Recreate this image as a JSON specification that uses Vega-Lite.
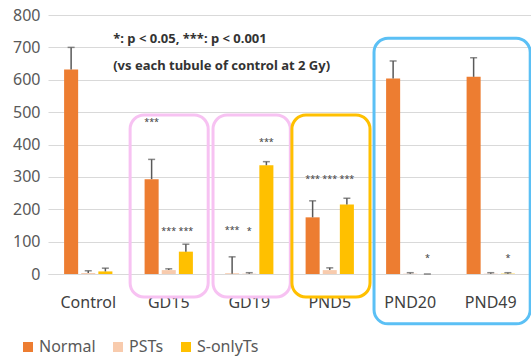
{
  "$schema": "https://vega.github.io/schema/vega-lite/v6.json",
  "autosize": {"type": "none"},
  "width": 483,
  "height": 259,
  "padding": {"left": 48, "top": 15, "right": 0, "bottom": 86},
  "background": "white",
  "config": {
    "view": {"stroke": null},
    "font": "Noto Sans",
    "axis": {"labelFont": "Noto Sans", "titleFont": "Noto Sans"},
    "axisY": {"labelOverlap": false, "labelFontSize": 16, "labelColor": "#595959", "labelPadding": 8, "ticks": false, "domain": false, "gridColor": "#D9D9D9", "gridWidth": 1, "title": null},
    "legend": {"labelFont": "Noto Sans"}
  },
  "datasets": {
    "bars": [
      {"group": "Control", "type": "Normal", "value": 632, "upper": 700},
      {"group": "Control", "type": "PSTs", "value": 3, "upper": 10},
      {"group": "Control", "type": "S-onlyTs", "value": 8, "upper": 18},
      {"group": "GD15", "type": "Normal", "value": 293, "upper": 354},
      {"group": "GD15", "type": "PSTs", "value": 12, "upper": 16},
      {"group": "GD15", "type": "S-onlyTs", "value": 69, "upper": 92},
      {"group": "GD19", "type": "Normal", "value": 1, "upper": 53},
      {"group": "GD19", "type": "PSTs", "value": 1, "upper": 4},
      {"group": "GD19", "type": "S-onlyTs", "value": 336, "upper": 347},
      {"group": "PND5", "type": "Normal", "value": 175, "upper": 226},
      {"group": "PND5", "type": "PSTs", "value": 12, "upper": 19},
      {"group": "PND5", "type": "S-onlyTs", "value": 215, "upper": 234},
      {"group": "PND20", "type": "Normal", "value": 604, "upper": 658},
      {"group": "PND20", "type": "PSTs", "value": 1, "upper": 4},
      {"group": "PND20", "type": "S-onlyTs", "value": 0, "upper": 0},
      {"group": "PND49", "type": "Normal", "value": 609, "upper": 668},
      {"group": "PND49", "type": "PSTs", "value": 1, "upper": 4},
      {"group": "PND49", "type": "S-onlyTs", "value": 1, "upper": 4}
    ],
    "stars": [
      {"group": "GD15", "type": "Normal", "label": "***", "at": 469},
      {"group": "GD15", "type": "PSTs", "label": "***", "at": 133},
      {"group": "GD15", "type": "S-onlyTs", "label": "***", "at": 133},
      {"group": "GD19", "type": "Normal", "label": "***", "at": 136},
      {"group": "GD19", "type": "PSTs", "label": "*", "at": 133},
      {"group": "GD19", "type": "S-onlyTs", "label": "***", "at": 407},
      {"group": "PND5", "type": "Normal", "label": "***", "at": 293},
      {"group": "PND5", "type": "PSTs", "label": "***", "at": 293},
      {"group": "PND5", "type": "S-onlyTs", "label": "***", "at": 293},
      {"group": "PND20", "type": "S-onlyTs", "label": "*", "at": 49},
      {"group": "PND49", "type": "S-onlyTs", "label": "*", "at": 49}
    ],
    "boxes": [
      {"x0": 1.02, "x1": 1.99, "y0": -71, "y1": 491, "box": "GD15"},
      {"x0": 2.05, "x1": 3.01, "y0": -71, "y1": 491, "box": "GD19"},
      {"x0": 3.03, "x1": 4.0, "y0": -71, "y1": 491, "box": "PND5"},
      {"x0": 4.05, "x1": 5.99, "y0": -154, "y1": 728, "box": "PND"}
    ],
    "notes": [
      {"x": 0.81, "y": 726, "text": "*: p < 0.05, ***: p < 0.001"},
      {"x": 0.81, "y": 641, "text": "(vs each tubule of control at 2 Gy)"}
    ]
  },
  "layer": [
    {
      "layer": [
        {
          "data": {"name": "bars"},
          "mark": {"type": "bar"},
          "encoding": {
            "x": {"field": "group", "type": "nominal", "sort": null,
              "scale": {"paddingInner": 0.4, "paddingOuter": 0.2},
              "axis": {"title": null, "labelAngle": 0, "labelFontSize": 16, "labelColor": "#404040", "labelPadding": 20, "ticks": false, "domain": true, "domainColor": "#D9D9D9", "domainWidth": 1}},
            "xOffset": {"field": "type", "type": "nominal", "sort": ["Normal", "PSTs", "S-onlyTs"],
              "scale": {"paddingInner": 0.18, "paddingOuter": 0}},
            "y": {"field": "value", "type": "quantitative",
              "scale": {"domain": [0, 800], "nice": false},
              "axis": {"values": [0,100,200,300,400,500,600,700,800]}},
            "color": {"field": "type", "type": "nominal", "sort": ["Normal", "PSTs", "S-onlyTs"],
              "scale": {"domain": ["Normal", "PSTs", "S-onlyTs"], "range": ["#ED7D31", "#F8CBAD", "#FFC000"]},
              "legend": {"title": null, "orient": "none", "legendX": -28, "legendY": 324, "direction": "horizontal",
                "symbolType": "square", "symbolSize": 100, "symbolStrokeWidth": 0, "labelFontSize": 16, "labelColor": "#595959", "labelOffset": 3, "columnPadding": 14}}
          }
        },
        {
          "data": {"name": "bars"},
          "mark": {"type": "rule", "color": "#595959", "strokeWidth": 1.5},
          "encoding": {
            "x": {"field": "group", "type": "nominal", "sort": null},
            "xOffset": {"field": "type", "type": "nominal", "sort": ["Normal", "PSTs", "S-onlyTs"]},
            "y": {"field": "value", "type": "quantitative", "axis": {"values": [0,100,200,300,400,500,600,700,800]}},
            "y2": {"field": "upper"}
          }
        },
        {
          "data": {"name": "bars"},
          "mark": {"type": "tick", "color": "#595959", "size": 7, "thickness": 1.5},
          "encoding": {
            "x": {"field": "group", "type": "nominal", "sort": null},
            "xOffset": {"field": "type", "type": "nominal", "sort": ["Normal", "PSTs", "S-onlyTs"]},
            "y": {"field": "upper", "type": "quantitative", "axis": {"values": [0,100,200,300,400,500,600,700,800]}}
          }
        },
        {
          "data": {"name": "stars"},
          "mark": {"type": "text", "fontSize": 9, "color": "#404040", "baseline": "middle"},
          "encoding": {
            "x": {"field": "group", "type": "nominal", "sort": null},
            "xOffset": {"field": "type", "type": "nominal", "sort": ["Normal", "PSTs", "S-onlyTs"]},
            "y": {"field": "at", "type": "quantitative", "axis": {"values": [0,100,200,300,400,500,600,700,800]}},
            "text": {"field": "label"}
          }
        }
      ]
    },
    {
      "layer": [
        {
          "data": {"name": "boxes"},
          "mark": {"type": "rect", "fill": null, "fillOpacity": 0, "strokeWidth": 3, "cornerRadius": 14},
          "encoding": {
            "x": {"field": "x0", "type": "quantitative", "scale": {"domain": [0, 6], "nice": false, "zero": false}, "axis": null},
            "x2": {"field": "x1"},
            "y": {"field": "y0", "type": "quantitative", "scale": {"domain": [0, 800], "nice": false}, "axis": {"values": [0,100,200,300,400,500,600,700,800]}},
            "y2": {"field": "y1"},
            "stroke": {"field": "box", "type": "nominal",
              "scale": {"domain": ["GD15", "GD19", "PND5", "PND"], "range": ["#F7C2F2", "#F7C2F2", "#FFC000", "#5BC0F5"]},
              "legend": null}
          }
        },
        {
          "data": {"name": "notes"},
          "mark": {"type": "text", "align": "left", "baseline": "middle", "fontSize": 13, "fontWeight": "bold", "color": "#333333"},
          "encoding": {
            "x": {"field": "x", "type": "quantitative", "scale": {"domain": [0, 6], "nice": false, "zero": false}, "axis": null},
            "y": {"field": "y", "type": "quantitative", "axis": {"values": [0,100,200,300,400,500,600,700,800]}},
            "text": {"field": "text"}
          }
        }
      ]
    }
  ],
  "resolve": {"scale": {"x": "independent", "stroke": "independent"}}
}
